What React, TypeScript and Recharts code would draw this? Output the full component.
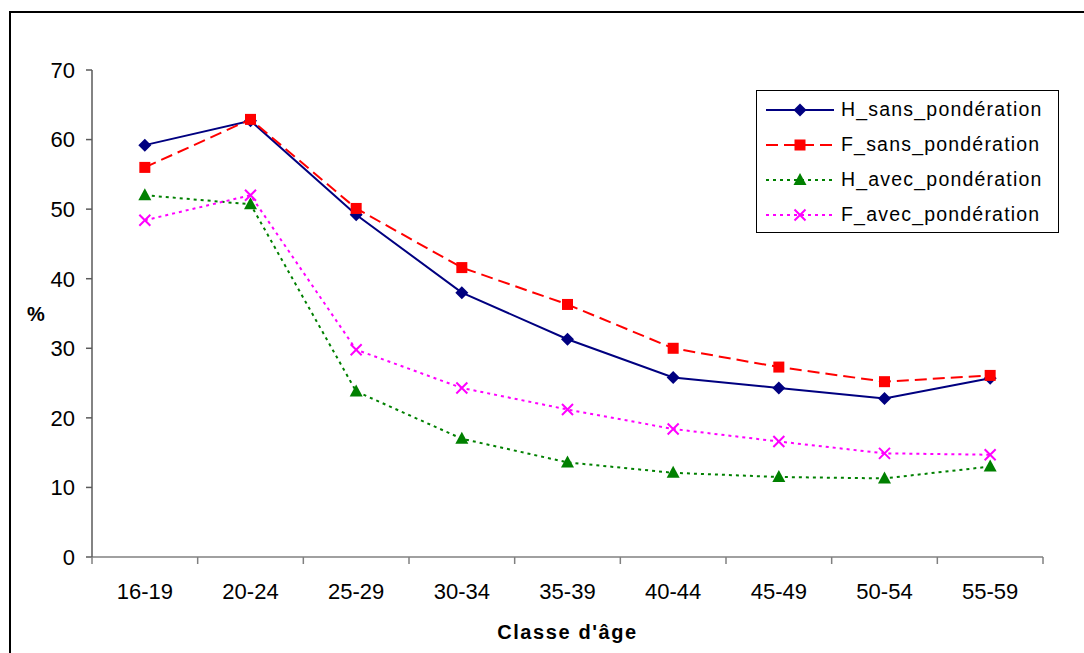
import React from "react";
import { LineChart, Line, XAxis, YAxis, Label } from "recharts";

const categories = ["16-19", "20-24", "25-29", "30-34", "35-39", "40-44", "45-49", "50-54", "55-59"];
const hSans = [59.2, 62.7, 49.2, 38.0, 31.3, 25.8, 24.3, 22.8, 25.7];
const fSans = [56.0, 62.9, 50.1, 41.6, 36.3, 30.0, 27.3, 25.2, 26.1];
const hAvec = [52.0, 50.7, 23.8, 17.0, 13.6, 12.1, 11.5, 11.3, 13.0];
const fAvec = [48.4, 52.0, 29.8, 24.3, 21.2, 18.4, 16.6, 14.9, 14.7];
const yTicks = [0, 10, 20, 30, 40, 50, 60, 70];

const data = categories.map((name, i) => ({
  name,
  hSans: hSans[i],
  fSans: fSans[i],
  hAvec: hAvec[i],
  fAvec: fAvec[i],
}));

const FONT = "'Liberation Sans', Arial, sans-serif";

// marker shapes
const Diamond = ({ cx, cy }: any) => (
  <path d={`M${cx},${cy - 6.5}L${cx + 6.5},${cy}L${cx},${cy + 6.5}L${cx - 6.5},${cy}Z`} fill="#000080" />
);
const Square = ({ cx, cy }: any) => (
  <rect x={cx - 5.5} y={cy - 5.5} width={11} height={11} fill="#FF0000" />
);
const Triangle = ({ cx, cy }: any) => (
  <path d={`M${cx},${cy - 7}L${cx + 6.5},${cy + 5}L${cx - 6.5},${cy + 5}Z`} fill="#008000" />
);
const Cross = ({ cx, cy }: any) => (
  <path
    d={`M${cx - 5.5},${cy - 5.5}L${cx + 5.5},${cy + 5.5}M${cx + 5.5},${cy - 5.5}L${cx - 5.5},${cy + 5.5}`}
    stroke="#FF00FF"
    strokeWidth={2}
    fill="none"
  />
);

const series = [
  { key: "hSans", name: "H_sans_pondération", color: "#000080", dash: undefined, Marker: Diamond },
  { key: "fSans", name: "F_sans_pondération", color: "#FF0000", dash: "12 6", Marker: Square },
  { key: "hAvec", name: "H_avec_pondération", color: "#008000", dash: "3 4", Marker: Triangle },
  { key: "fAvec", name: "F_avec_pondération", color: "#FF00FF", dash: "3 4", Marker: Cross },
];

// category tick: label at band centre, tick marks at band edges
const CatTick = (props: any) => {
  const { x, y, payload, index } = props;
  const half = payload.offset || 0;
  const axisY = y - 26;
  return (
    <g>
      <line x1={x - half} x2={x - half} y1={axisY} y2={axisY + 7} stroke="#808080" strokeWidth={1.5} />
      {index === categories.length - 1 && (
        <line x1={x + half} x2={x + half} y1={axisY} y2={axisY + 7} stroke="#808080" strokeWidth={1.5} />
      )}
      <text x={x} y={y} dy="0.71em" textAnchor="middle" fontSize={22} fill="#000" fontFamily={FONT}>
        {payload.value}
      </text>
    </g>
  );
};

const LegendBox = () => (
  <div
    style={{
      position: "absolute",
      left: 756,
      top: 90,
      width: 303,
      height: 143,
      border: "1px solid #000",
      background: "#fff",
      boxSizing: "border-box",
      paddingTop: 1,
    }}
  >
    {series.map((s) => (
      <div key={s.key} style={{ display: "flex", alignItems: "center", height: 35 }}>
        <svg width={84} height={20} style={{ flex: "none" }}>
          <line x1={9} x2={77} y1={10} y2={10} stroke={s.color} strokeWidth={2} strokeDasharray={s.dash} />
          <s.Marker cx={43} cy={10} />
        </svg>
        <span style={{ fontFamily: FONT, fontSize: 19.5, letterSpacing: 1.2, color: "#000", whiteSpace: "nowrap" }}>
          {s.name}
        </span>
      </div>
    ))}
  </div>
);

export default function App() {
  return (
    <div style={{ position: "fixed", left: 0, top: 0, width: 1084, height: 653, background: "#fff", overflow: "hidden" }}>
      <div
        style={{
          position: "absolute",
          left: 9,
          top: 11,
          width: 1100,
          height: 700,
          border: "2px solid #000",
        }}
      />
      <div style={{ position: "absolute", left: 0, top: 0 }}>
        <LineChart width={1084} height={653} data={data} margin={{ top: 70, right: 41, bottom: 6, left: 8 }}>
          <XAxis
            dataKey="name"
            scale="band"
            height={90}
            tickLine={false}
            tickSize={7}
            tickMargin={19}
            axisLine={{ stroke: "#808080", strokeWidth: 1.5 }}
            tick={<CatTick />}
            interval={0}
          >
            <Label
              value="Classe d'âge"
              position="insideBottom"
              offset={8}
              style={{ fontFamily: FONT, fontSize: 20, fontWeight: "bold", fill: "#000", letterSpacing: 1.6 }}
            />
          </XAxis>
          <YAxis
            width={84}
            domain={[0, 70]}
            ticks={yTicks}
            tickSize={6}
            tickMargin={11}
            axisLine={{ stroke: "#5a5a5a", strokeWidth: 1.5 }}
            tickLine={{ stroke: "#5a5a5a", strokeWidth: 1.5 }}
            tick={{ fontFamily: FONT, fontSize: 22, fill: "#000" }}
          >
            <Label
              value="%"
              position="insideLeft"
              offset={19}
              style={{ fontFamily: FONT, fontSize: 20, fontWeight: "bold", fill: "#000" }}
            />
          </YAxis>
          {series.map((s) => (
            <Line
              key={s.key}
              dataKey={s.key}
              name={s.name}
              stroke={s.color}
              strokeWidth={2}
              strokeDasharray={s.dash}
              type="linear"
              isAnimationActive={false}
              dot={(p: any) => <s.Marker key={`${s.key}-${p.index}`} cx={p.cx} cy={p.cy} />}
              activeDot={false}
            />
          ))}
        </LineChart>
      </div>
      <LegendBox />
    </div>
  );
}
